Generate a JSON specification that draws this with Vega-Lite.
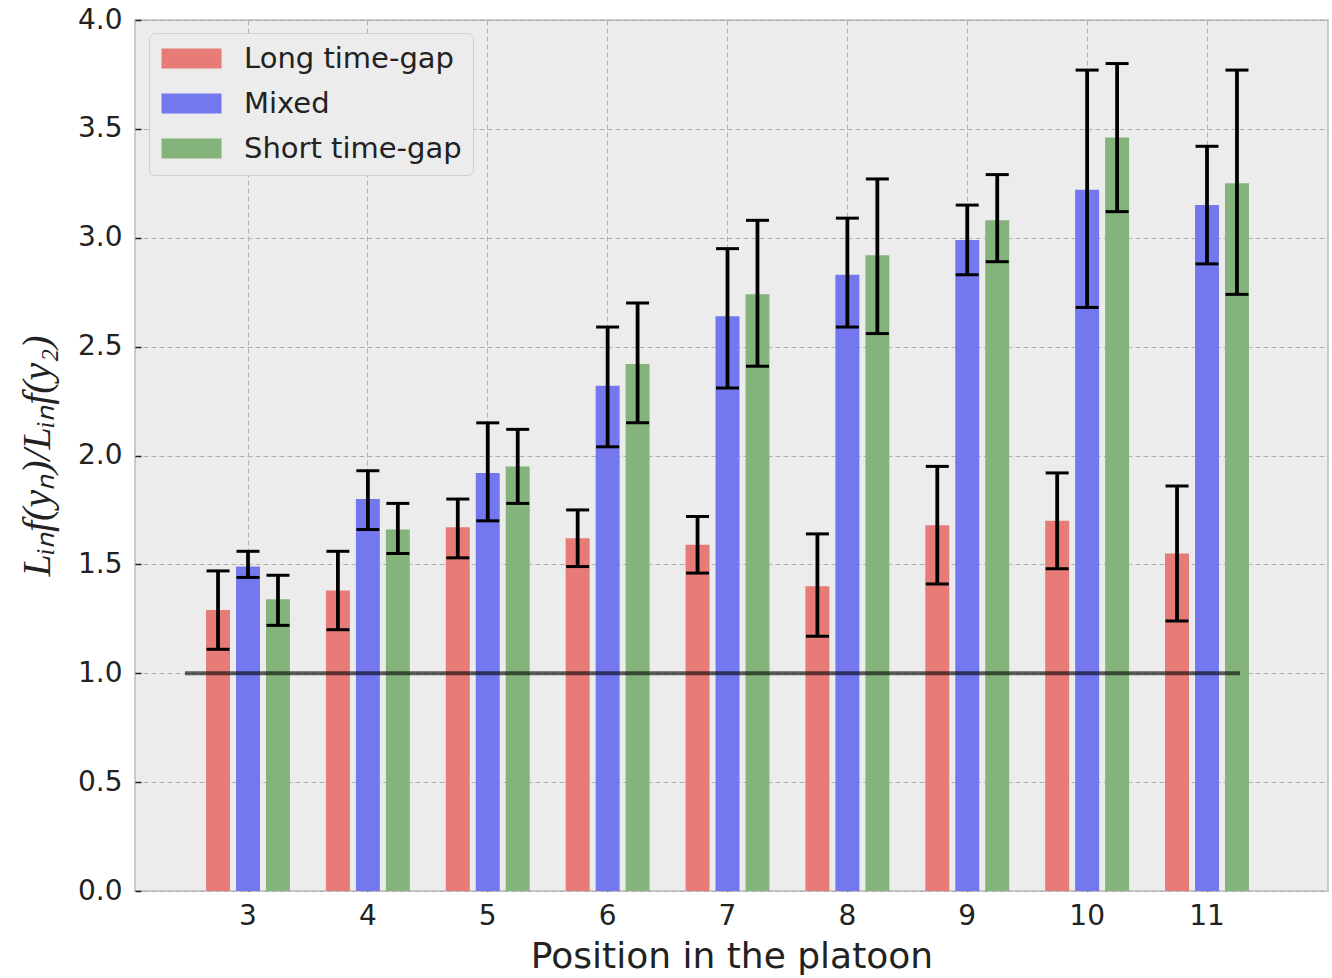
{
  "$schema": "https://vega.github.io/schema/vega-lite/v6.json",
  "width": 1193,
  "height": 871,
  "autosize": {"type": "none"},
  "padding": {"left": 135, "top": 20, "right": 4, "bottom": 87},
  "background": "white",
  "config": {
    "font": "DejaVu Sans",
    "view": {"fill": "#ececec", "stroke": "#bcbcbc", "strokeWidth": 1.5},
    "axis": {
      "domain": false,
      "grid": true,
      "gridColor": "#b0b0b0",
      "gridDash": [5, 3],
      "gridWidth": 1,
      "tickColor": "#222222",
      "tickSize": -6,
      "tickWidth": 1.5,
      "labelColor": "#222222",
      "labelFontSize": 28,
      "labelFont": "DejaVu Sans",
      "titleColor": "#222222",
      "titleFontWeight": "normal"
    }
  },
  "datasets": {
    "bars": [
      {"pos": 3, "series": "Long time-gap", "val": 1.29, "lo": 1.11, "hi": 1.47},
      {"pos": 3, "series": "Mixed", "val": 1.49, "lo": 1.44, "hi": 1.56},
      {"pos": 3, "series": "Short time-gap", "val": 1.34, "lo": 1.22, "hi": 1.45},
      {"pos": 4, "series": "Long time-gap", "val": 1.38, "lo": 1.20, "hi": 1.56},
      {"pos": 4, "series": "Mixed", "val": 1.80, "lo": 1.66, "hi": 1.93},
      {"pos": 4, "series": "Short time-gap", "val": 1.66, "lo": 1.55, "hi": 1.78},
      {"pos": 5, "series": "Long time-gap", "val": 1.67, "lo": 1.53, "hi": 1.80},
      {"pos": 5, "series": "Mixed", "val": 1.92, "lo": 1.70, "hi": 2.15},
      {"pos": 5, "series": "Short time-gap", "val": 1.95, "lo": 1.78, "hi": 2.12},
      {"pos": 6, "series": "Long time-gap", "val": 1.62, "lo": 1.49, "hi": 1.75},
      {"pos": 6, "series": "Mixed", "val": 2.32, "lo": 2.04, "hi": 2.59},
      {"pos": 6, "series": "Short time-gap", "val": 2.42, "lo": 2.15, "hi": 2.70},
      {"pos": 7, "series": "Long time-gap", "val": 1.59, "lo": 1.46, "hi": 1.72},
      {"pos": 7, "series": "Mixed", "val": 2.64, "lo": 2.31, "hi": 2.95},
      {"pos": 7, "series": "Short time-gap", "val": 2.74, "lo": 2.41, "hi": 3.08},
      {"pos": 8, "series": "Long time-gap", "val": 1.40, "lo": 1.17, "hi": 1.64},
      {"pos": 8, "series": "Mixed", "val": 2.83, "lo": 2.59, "hi": 3.09},
      {"pos": 8, "series": "Short time-gap", "val": 2.92, "lo": 2.56, "hi": 3.27},
      {"pos": 9, "series": "Long time-gap", "val": 1.68, "lo": 1.41, "hi": 1.95},
      {"pos": 9, "series": "Mixed", "val": 2.99, "lo": 2.83, "hi": 3.15},
      {"pos": 9, "series": "Short time-gap", "val": 3.08, "lo": 2.89, "hi": 3.29},
      {"pos": 10, "series": "Long time-gap", "val": 1.70, "lo": 1.48, "hi": 1.92},
      {"pos": 10, "series": "Mixed", "val": 3.22, "lo": 2.68, "hi": 3.77},
      {"pos": 10, "series": "Short time-gap", "val": 3.46, "lo": 3.12, "hi": 3.80},
      {"pos": 11, "series": "Long time-gap", "val": 1.55, "lo": 1.24, "hi": 1.86},
      {"pos": 11, "series": "Mixed", "val": 3.15, "lo": 2.88, "hi": 3.42},
      {"pos": 11, "series": "Short time-gap", "val": 3.25, "lo": 2.74, "hi": 3.77}
    ],
    "ref": [{"from": 3, "to": 11, "y": 1}]
  },
  "encoding": {
    "x": {
      "field": "pos",
      "type": "ordinal",
      "scale": {"type": "band", "paddingInner": 0, "paddingOuter": 0.476, "align": 0.465},
      "axis": {
        "title": "Position in the platoon",
        "titleFontSize": 36,
        "titlePadding": 9,
        "labelAngle": 0,
        "labelPadding": 17,
        "bandPosition": 0.5
      }
    }
  },
  "layer": [
    {
      "data": {"name": "bars"},
      "mark": {"type": "bar", "opacity": 1},
      "encoding": {
        "xOffset": {
          "field": "series",
          "type": "nominal",
          "scale": {"domain": ["Long time-gap", "Mixed", "Short time-gap"], "paddingInner": 0.2, "paddingOuter": 0.6}
        },
        "y": {
          "field": "val",
          "type": "quantitative",
          "scale": {"domain": [0, 4], "nice": false, "zero": true},
          "axis": {
            "title": "Lᵢₙf(yₙ)/Lᵢₙf(y₂)",
            "titleFont": "Liberation Serif",
            "titleFontStyle": "italic",
            "titleFontSize": 40,
            "titlePadding": 20,
            "values": [0, 0.5, 1, 1.5, 2, 2.5, 3, 3.5, 4],
            "format": ".1f",
            "labelPadding": 19
          }
        },
        "color": {
          "field": "series",
          "type": "nominal",
          "scale": {
            "domain": ["Long time-gap", "Mixed", "Short time-gap"],
            "range": ["#e67b78", "#7478ee", "#84b47b"]
          },
          "legend": {
            "title": null,
            "orient": "none",
            "legendX": 14,
            "legendY": 13,
            "labelFontSize": 29,
            "labelFont": "DejaVu Sans",
            "labelColor": "#222222",
            "labelLimit": 500,
            "labelOffset": 38,
            "symbolType": "M-3,-1H3V1H-3Z",
            "symbolSize": 400,
            "symbolOffset": 17,
            "symbolStrokeWidth": 0,
            "symbolOpacity": 1,
            "rowPadding": 15,
            "padding": 11,
            "fillColor": "#ececec",
            "strokeColor": "#cfcfcf",
            "cornerRadius": 6
          }
        }
      }
    },
    {
      "data": {"name": "ref"},
      "mark": {"type": "rule", "color": "#000000", "opacity": 0.6, "strokeWidth": 4},
      "encoding": {
        "x": {"field": "from", "type": "ordinal", "bandPosition": -0.025},
        "x2": {"field": "to", "bandPosition": 0.775},
        "y": {"field": "y", "type": "quantitative"}
      }
    },
    {
      "data": {"name": "bars"},
      "mark": {"type": "rule", "color": "#000000", "strokeWidth": 3.8},
      "encoding": {
        "xOffset": {"field": "series", "type": "nominal"},
        "y": {"field": "lo", "type": "quantitative"},
        "y2": {"field": "hi"}
      }
    },
    {
      "data": {"name": "bars"},
      "mark": {"type": "tick", "color": "#000000", "thickness": 3, "size": 23, "opacity": 1, "orient": "horizontal"},
      "encoding": {
        "xOffset": {"field": "series", "type": "nominal"},
        "y": {"field": "hi", "type": "quantitative"}
      }
    },
    {
      "data": {"name": "bars"},
      "mark": {"type": "tick", "color": "#000000", "thickness": 3, "size": 23, "opacity": 1, "orient": "horizontal"},
      "encoding": {
        "xOffset": {"field": "series", "type": "nominal"},
        "y": {"field": "lo", "type": "quantitative"}
      }
    }
  ]
}
